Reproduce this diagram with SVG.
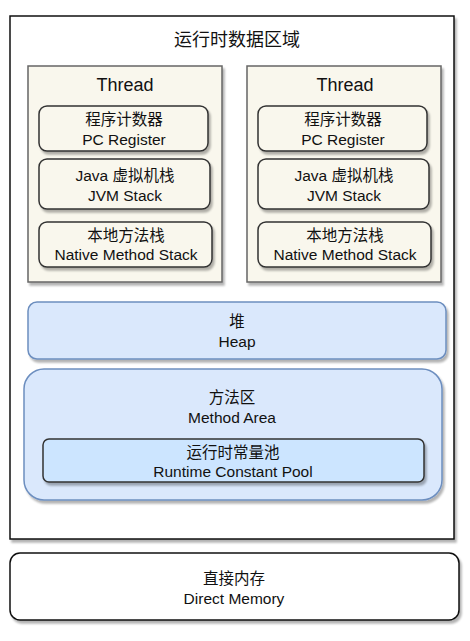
<svg xmlns="http://www.w3.org/2000/svg" width="470" height="641" viewBox="0 0 470 641">
<defs>
<filter id="sh" x="-10%" y="-10%" width="130%" height="140%">
<feGaussianBlur in="SourceAlpha" stdDeviation="1"/>
<feOffset dx="2" dy="3" result="o"/>
<feComponentTransfer><feFuncA type="linear" slope="0.3"/></feComponentTransfer>
<feMerge><feMergeNode/><feMergeNode in="SourceGraphic"/></feMerge>
</filter>
</defs>
<style>
text{font-family:"Liberation Sans","Noto Sans CJK SC",Arial,sans-serif;fill:#111;text-anchor:middle}
.t{font-size:18px}
.s{font-size:15.5px}
.thread{fill:#f9f7ed;stroke:#666;stroke-width:1.5}
.item{fill:#f9f7ed;stroke:#333;stroke-width:1.5}
.blue{fill:#dae8fc;stroke:#6c8ebf;stroke-width:1.5}
.pool{fill:#cce5ff;stroke:#333;stroke-width:1.5}
</style>
<rect width="470" height="641" fill="#fff"/>
<g id="runtime-area">
<rect x="10" y="16" width="444" height="523" fill="#fff" stroke="#111" stroke-width="1.5" filter="url(#sh)"/>
<text class="t" x="237" y="46">运行时数据区域</text>
</g>
<g id="thread1">
<rect class="thread" x="28" y="66" width="194" height="216" filter="url(#sh)"/>
<text class="t" x="125" y="91">Thread</text>
</g>
<g id="pc1">
<rect class="item" x="39" y="106" width="169" height="45" rx="8" filter="url(#sh)"/>
<text class="s" x="124" y="125">程序计数器</text>
<text class="s" x="124" y="145">PC Register</text>
</g>
<g id="jvm1">
<rect class="item" x="39" y="159" width="171" height="50" rx="8" filter="url(#sh)"/>
<text class="s" x="125" y="181">Java 虚拟机栈</text>
<text class="s" x="125" y="201">JVM Stack</text>
</g>
<g id="native1">
<rect class="item" x="39" y="222" width="173" height="45" rx="8" filter="url(#sh)"/>
<text class="s" x="126" y="241">本地方法栈</text>
<text class="s" x="126" y="260">Native Method Stack</text>
</g>
<g id="thread2">
<rect class="thread" x="247" y="66" width="194" height="216" filter="url(#sh)"/>
<text class="t" x="345" y="91">Thread</text>
</g>
<g id="pc2">
<rect class="item" x="258" y="106" width="169" height="45" rx="8" filter="url(#sh)"/>
<text class="s" x="343" y="125">程序计数器</text>
<text class="s" x="343" y="145">PC Register</text>
</g>
<g id="jvm2">
<rect class="item" x="258" y="159" width="171" height="50" rx="8" filter="url(#sh)"/>
<text class="s" x="344" y="181">Java 虚拟机栈</text>
<text class="s" x="344" y="201">JVM Stack</text>
</g>
<g id="native2">
<rect class="item" x="258" y="222" width="173" height="45" rx="8" filter="url(#sh)"/>
<text class="s" x="345" y="241">本地方法栈</text>
<text class="s" x="345" y="260">Native Method Stack</text>
</g>
<g id="heap">
<rect class="blue" x="28" y="302" width="418" height="57" rx="9" filter="url(#sh)"/>
<text class="s" x="237" y="327">堆</text>
<text class="s" x="237" y="347">Heap</text>
</g>
<g id="method-area">
<rect class="blue" x="24" y="369" width="418" height="131" rx="20" filter="url(#sh)"/>
<text class="s" x="232" y="403">方法区</text>
<text class="s" x="232" y="423">Method Area</text>
</g>
<g id="constant-pool">
<rect class="pool" x="43" y="439" width="381" height="43" rx="6" filter="url(#sh)"/>
<text class="s" x="233" y="458">运行时常量池</text>
<text class="s" x="233" y="477">Runtime Constant Pool</text>
</g>
<g id="direct-memory">
<rect x="10" y="553" width="449" height="67" rx="10" fill="#fff" stroke="#111" stroke-width="1.5" filter="url(#sh)"/>
<text class="s" x="234" y="584">直接内存</text>
<text class="s" x="234" y="604">Direct Memory</text>
</g>
<g id="connectors"/>
</svg>
